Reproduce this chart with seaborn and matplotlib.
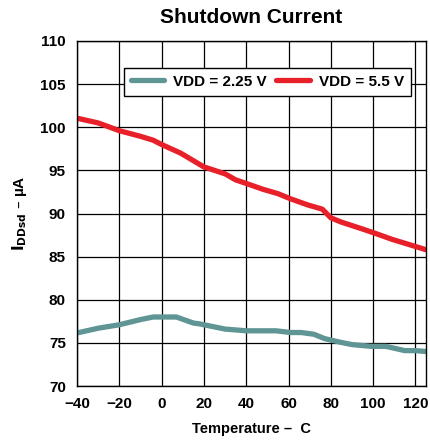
import numpy as np
import pandas as pd
import seaborn as sns
import matplotlib.pyplot as plt

# VDD = 2.25 V
temp_low = [-40, -30, -20, -10, -4, 7, 15, 18, 30, 40, 54, 61, 66, 72, 77, 84, 90, 99, 106, 115, 120, 125]
idd_low = [76.15, 76.7, 77.1, 77.7, 78.0, 78.0, 77.3, 77.2, 76.6, 76.4, 76.4, 76.2, 76.2, 76.0, 75.5,
           75.1, 74.8, 74.6, 74.6, 74.1, 74.1, 74.0]

# VDD = 5.5 V
temp_high = [-40, -30, -20, -10, -4, 0, 9, 20, 30, 35, 41, 48, 55, 61, 69, 76, 80, 85, 90, 95, 101, 109, 117, 125]
idd_high = [101.05, 100.5, 99.6, 98.95, 98.5, 98.0, 97.0, 95.4, 94.6, 93.9, 93.4, 92.8, 92.3, 91.7, 91.0,
            90.5, 89.5, 89.0, 88.6, 88.2, 87.7, 87.0, 86.4, 85.8]

x_ticks = [-40, -20, 0, 20, 40, 60, 80, 100, 120]
y_ticks = [70, 75, 80, 85, 90, 95, 100, 105, 110]

df = pd.concat([
    pd.DataFrame({"Temp": temp_low, "I": idd_low, "Series": "VDD = 2.25 V"}),
    pd.DataFrame({"Temp": temp_high, "I": idd_high, "Series": "VDD = 5.5 V"}),
])

sns.set_style("white")
plt.rcParams['font.family'] = ['Liberation Sans', 'DejaVu Sans']
plt.rcParams['font.weight'] = 'bold'
plt.rcParams['text.color'] = 'black'
plt.rcParams['axes.labelcolor'] = 'black'

fig = plt.figure(figsize=(4.31, 4.42), dpi=100)
ax = fig.add_axes([77 / 431, 1 - 386 / 442, 349 / 431, 345 / 442])

sns.lineplot(data=df, x="Temp", y="I", hue="Series", sort=False, estimator=None,
             palette={"VDD = 2.25 V": "#5f9595", "VDD = 5.5 V": "#e8202a"},
             linewidth=3.8, ax=ax)

ax.set_xlim(-40, 125)
ax.set_ylim(70, 110)
ax.set_xticks(x_ticks)
ax.set_yticks(y_ticks)
ax.set_xticklabels(["\u221240", "\u221220", "0", "20", "40", "60", "80", "100", "120"],
                   fontsize=11, fontweight='bold')
ax.set_yticklabels([str(v) for v in y_ticks], fontsize=11, fontweight='bold')
ax.grid(True, color='black', linewidth=0.9)
ax.set_axisbelow(True)
for s in ax.spines.values():
    s.set_color('black')
    s.set_linewidth(1.0)
ax.tick_params(axis='both', direction='inout', length=8, width=0.9, colors='black', pad=4)

ax.set_xlabel("Temperature \u2013  C", fontsize=10.5, fontweight='bold', labelpad=8)
ax.set_ylabel("$\\mathbf{I_{DDsd}}$ \u2013 \u00b5A", fontsize=11, fontweight='bold', labelpad=8)
ax.set_title("Shutdown Current", fontsize=15, fontweight='bold', pad=13)

leg = ax.legend(loc='upper right', ncol=2, bbox_to_anchor=(0.957, 0.922), borderaxespad=0,
                frameon=True, fancybox=False, edgecolor='black', framealpha=1, fontsize=11,
                handlelength=2.2, columnspacing=0.6, borderpad=0.45, handletextpad=0.6)
leg.get_frame().set_linewidth(1.0)
for t in leg.get_texts():
    t.set_fontweight('bold')

fig.savefig("out.png", dpi=100)
